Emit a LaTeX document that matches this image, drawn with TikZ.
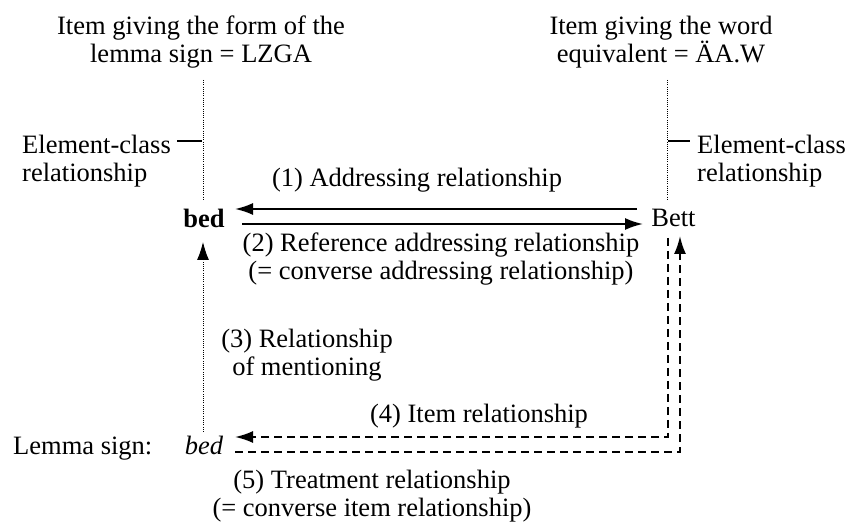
\documentclass[tikz,border=0pt]{standalone}
\usepackage{fontspec}
\setmainfont{Liberation Serif}
\usetikzlibrary{arrows.meta}
\begin{document}
\begin{tikzpicture}[x=1pt,y=-1pt,
  txt/.style={inner sep=0pt, anchor=base, align=center, font=\fontsize{26.5pt}{28pt}\selectfont},
  ltxt/.style={inner sep=0pt, anchor=base west, align=left, font=\fontsize{26.5pt}{28pt}\selectfont},
  tip/.style={-{Latex[length=18pt,width=12pt]}},
  solidarr/.style={line width=2pt, tip},
  dasharr/.style={line width=2pt, dash pattern=on 8pt off 5pt},
  dotline/.style={line width=1pt, dash pattern=on 1pt off 1.2pt},
  tickline/.style={line width=2pt}]
\path[use as bounding box, fill=white] (0,0) rectangle (849,526);

% top labels (base = baseline of last line)
\node[txt] (topL) at (201,63) {Item giving the form of the\\lemma sign = LZGA};
\node[txt] (topR) at (661,63) {Item giving the word\\equivalent = ÄA.W};

% element-class labels
\node[ltxt] (ecL) at (22,182) {Element-class\\relationship};
\node[ltxt] (ecR) at (697,182) {Element-class\\relationship};

% main words
\node[txt] (bedB) at (204,228) {\textbf{bed}};
\node[txt] (Bett) at (673.5,227) {Bett};
\node[txt] (bedI) at (204,455) {\textit{bed}};
\node[ltxt] (lemma) at (13,455) {Lemma sign:};

% relation labels
\node[txt] (l1) at (417,187) {(1) Addressing relationship};
\node[txt] (l2) at (441,280) {(2) Reference addressing relationship\\(= converse addressing relationship)};
\node[txt] (l3) at (307,376) {(3) Relationship\\of mentioning};
\node[txt] (l4) at (479,423) {(4) Item relationship};
\node[txt] (l5) at (372,516) {(5) Treatment relationship\\(= converse item relationship)};

% coordinates
\coordinate (dLtop) at (203,80);
\coordinate (dLbot) at (203,200);
\coordinate (dRtop) at (667,80);
\coordinate (dRbot) at (667,200);
\coordinate (tLa) at (177,141);
\coordinate (tLb) at (202,141);
\coordinate (tRa) at (668,141);
\coordinate (tRb) at (690,141);
\coordinate (a1s) at (637,209);
\coordinate (a1e) at (235,209);
\coordinate (a2s) at (242,224);
\coordinate (a2e) at (643,224);
\coordinate (a3s) at (203,432);
\coordinate (a3e) at (203,242);
\coordinate (a4s) at (668,238);
\coordinate (a4c) at (668,437);
\coordinate (a4e) at (235,437);
\coordinate (a5s) at (235,452);
\coordinate (a5c) at (680,452);
\coordinate (a5e) at (680,236);

% dotted element-class lines and ticks
\draw[dotline] (dLtop) -- (dLbot);
\draw[dotline] (dRtop) -- (dRbot);
\draw[tickline] (tLa) -- (tLb);
\draw[tickline] (tRa) -- (tRb);

% arrows
\draw[solidarr] (a1s) -- (a1e);
\draw[solidarr] (a2s) -- (a2e);
\draw[dotline, tip] (a3s) -- (a3e);
\draw[dasharr, tip] (a4s) -- (a4c) -- (a4e);
\draw[dasharr, tip] (a5s) -- (a5c) -- (a5e);
\end{tikzpicture}
\end{document}
